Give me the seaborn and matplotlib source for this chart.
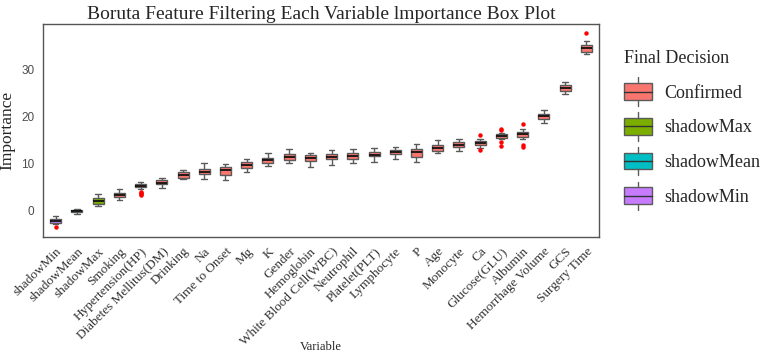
import pandas as pd
import matplotlib.pyplot as plt
import seaborn as sns
from matplotlib.patches import Patch, Rectangle
from matplotlib.lines import Line2D
from matplotlib.legend_handler import HandlerBase

variables = ['shadowMin', 'shadowMean', 'shadowMax', 'Smoking', 'Hypertension(HP)',
             'Diabetes Mellitus(DM)', 'Drinking', 'Na', 'Time to Onset', 'Mg', 'K',
             'Gender', 'Hemoglobin', 'White Blood Cell(WBC)', 'Neutrophil', 'Platelet(PLT)',
             'Lymphocyte', 'P', 'Age', 'Monocyte', 'Ca', 'Glucose(GLU)', 'Albumin',
             'Hemorrhage Volume', 'GCS', 'Surgery Time']
decision = ['shadowMin', 'shadowMean', 'shadowMax'] + ['Confirmed'] * 23

# five-number summaries
w_lo = [-2.8, -0.6, 1.1, 2.3, 4.6, 4.9, 6.7, 6.7, 6.6, 8.3, 9.6, 10.05, 9.35, 9.7, 10.2,
        10.4, 11.0, 10.4, 12.2, 12.65, 13.4, 15.2, 15.3, 18.5, 24.65, 33.2]
q1 = [-2.5, -0.2, 1.55, 3.0, 5.0, 5.7, 7.0, 7.8, 7.7, 9.15, 10.2, 10.75, 10.5, 10.9, 11.0,
      11.65, 11.95, 11.5, 12.6, 13.5, 13.9, 15.45, 15.7, 19.45, 25.35, 33.6]
med = [-2.1, -0.05, 2.1, 3.4, 5.3, 6.0, 7.6, 8.3, 8.6, 9.8, 10.75, 11.4, 11.25, 11.45, 11.6,
       11.9, 12.4, 12.4, 13.3, 14.0, 14.35, 15.8, 16.3, 20.0, 26.0, 34.4]
q3 = [-1.6, 0.2, 2.7, 3.9, 5.8, 6.5, 8.2, 8.85, 9.35, 10.4, 11.25, 12.1, 11.8, 11.95, 12.15,
      12.5, 12.85, 13.2, 13.9, 14.55, 14.8, 16.2, 16.7, 20.6, 26.55, 35.1]
w_hi = [-1.1, 0.4, 3.6, 4.6, 6.1, 7.0, 8.7, 10.2, 10.0, 10.9, 12.3, 13.0, 12.15, 12.85, 13.1,
        13.3, 13.55, 14.05, 15.05, 15.3, 15.2, 16.5, 17.35, 21.4, 27.25, 36.0]

out_var = ['shadowMin', 'Hypertension(HP)', 'Hypertension(HP)', 'Hypertension(HP)',
           'Hypertension(HP)', 'Ca', 'Ca', 'Glucose(GLU)', 'Glucose(GLU)', 'Glucose(GLU)',
           'Glucose(GLU)', 'Albumin', 'Albumin', 'Albumin', 'Surgery Time']
out_val = [-3.4, 4.1, 3.8, 3.5, 3.3, 16.1, 12.8, 17.4, 17.1, 14.55, 13.7, 18.3, 13.9, 13.6, 37.6]

levels = ['Confirmed', 'shadowMax', 'shadowMean', 'shadowMin']
colors = ['#F8766D', '#7CAE00', '#00BFC4', '#C77CFF']
palette = dict(zip(levels, colors))

rows = []
for i, v in enumerate(variables):
    for val in (w_lo[i], q1[i], med[i], q3[i], w_hi[i]):
        rows.append({'Variable': v, 'Importance': val, 'Decision': decision[i]})
df = pd.DataFrame(rows)
outliers = pd.DataFrame({'Variable': out_var, 'Importance': out_val})

sns.set_style('white')
plt.rcParams['font.family'] = ['Liberation Serif', 'DejaVu Serif']

edge = '#5a5a5a'
fig = plt.figure(figsize=(7.67, 3.54), dpi=100)
ax = fig.add_axes([0.056, 0.3305, 0.725, 0.6015])

sns.boxplot(data=df, x='Variable', y='Importance', hue='Decision', order=variables,
            hue_order=levels, palette=palette, dodge=False, whis=(0, 100), width=0.52,
            linecolor=edge, linewidth=1, saturation=1, legend=False,
            medianprops={'color': '#111111', 'linewidth': 1.3}, ax=ax)
sns.stripplot(data=outliers, x='Variable', y='Importance', order=variables, color='red',
              jitter=False, size=3.2, ax=ax)

ax.set_xlim(-0.6, 25.6)
ax.set_ylim(-5.5, 39.5)
ax.set_yticks([0, 10, 20, 30])
for s in ax.spines.values():
    s.set_color('#555555')
    s.set_linewidth(1)
ax.tick_params(axis='both', length=4, width=1, color='#555555')
ax.tick_params(axis='y', labelsize=8.5, labelcolor='#4d4d4d', pad=2)
for lab in ax.get_yticklabels():
    lab.set_family(['Liberation Sans', 'DejaVu Sans'])
ax.set_xticks(range(len(variables)))
ax.set_xticklabels(variables, rotation=45, ha='right', rotation_mode='anchor',
                   fontsize=9.5, color='#333333')
ax.tick_params(axis='x', pad=2)
ax.set_ylabel('Importance', fontsize=12.5)
ax.yaxis.set_label_coords(-0.05, 0.5)
ax.set_xlabel('Variable', fontsize=9)
ax.xaxis.set_label_coords(0.5, -0.49)
ax.set_title('Boruta Feature Filtering Each Variable lmportance Box Plot', fontsize=14, pad=4)


class BoxKey(HandlerBase):
    def create_artists(self, legend, orig_handle, xdescent, ydescent, width, height,
                       fontsize, trans):
        x0, y0 = -xdescent, -ydescent
        cx = x0 + width / 2
        box = Rectangle((x0, y0), width, height, facecolor=orig_handle.get_facecolor(),
                        edgecolor=edge, lw=1, transform=trans)
        mid = Line2D([x0, x0 + width], [y0 + height / 2] * 2, color='#333333', lw=1,
                     transform=trans)
        up = Line2D([cx, cx], [y0 + height, y0 + height * 1.35], color=edge, lw=1,
                    transform=trans)
        dn = Line2D([cx, cx], [y0, y0 - height * 0.35], color=edge, lw=1, transform=trans)
        return [box, mid, up, dn]


handles = [Patch(facecolor=c) for c in colors]
fig.legend(handles, levels, title='Final Decision', loc='upper left',
           bbox_to_anchor=(0.792, 0.905), frameon=False, fontsize=13, title_fontsize=13,
           handler_map={Patch: BoxKey()}, handlelength=1.55, handleheight=1.05,
           labelspacing=0.9, alignment='left', handletextpad=0.7)

fig.savefig('out.png', dpi=100)
